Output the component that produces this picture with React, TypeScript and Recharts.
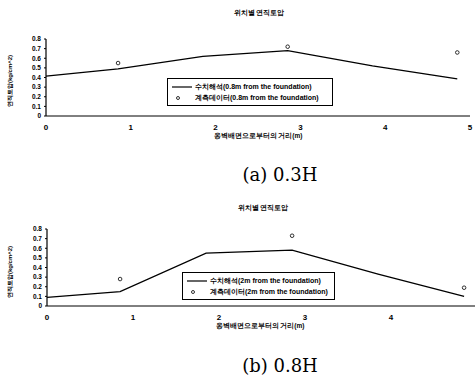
import { ComposedChart, Line, Scatter, XAxis, YAxis, Legend } from 'recharts';

// distance from wall (m)
const X_TICKS_A = [0, 1, 2, 3, 4, 5];
const X_TICKS_B = [0, 1, 2, 3, 4];
const Y_TICKS = [0, 0.1, 0.2, 0.3, 0.4, 0.5, 0.6, 0.7, 0.8];
const LINE_X = [0, 0.85, 1.85, 2.85, 3.85, 4.85];
const MEASURED_X = [0.85, 2.85, 4.85];

// (a) 0.3H
const A_NUMERIC = [0.415, 0.49, 0.62, 0.68, 0.52, 0.385];
const A_MEASURED = [0.55, 0.72, 0.66];
// (b) 0.8H
const B_NUMERIC = [0.09, 0.15, 0.55, 0.58, 0.33, 0.1];
const B_MEASURED = [0.28, 0.73, 0.19];

const TITLE = '위치별 연직토압';
const X_LABEL = '옹벽배면으로부터의 거리(m)';
const Y_LABEL = '연직토압(kg/cm^2)';

const FONT = '"Liberation Sans", Arial, sans-serif';

const Dot = (props: any) => (
  <circle cx={props.cx} cy={props.cy} r={1.8} fill="#fff" stroke="#000" strokeWidth={0.8} />
);

interface PanelProps {
  numeric: number[];
  measured: number[];
  xTicks: number[];
  depth: string;
  width: number;
  marginLeft: number;
  marginRight: number;
  legendLeft: number;
  legendTop: number;
  legendWidth: number;
  titleX: number;
  titleY: number;
  xLabelX: number;
  yLabelY: number;
}

function Panel(p: PanelProps) {
  const lineData = LINE_X.map((x, i) => ({ x, y: p.numeric[i] }));
  const pointData = MEASURED_X.map((x, i) => ({ x, y: p.measured[i] }));

  const legendContent = () => (
    <div style={{
      border: '1.5px solid #000',
      background: '#fff',
      padding: '2px 4px',
      fontFamily: FONT,
      fontSize: 7,
      fontWeight: 700,
      lineHeight: '11px',
      color: '#000',
      whiteSpace: 'nowrap',
    }}>
      <div style={{ display: 'flex', alignItems: 'center' }}>
        <svg width={20} height={8}><line x1={0} y1={4} x2={20} y2={4} stroke="#000" strokeWidth={1.2} /></svg>
        <span style={{ marginLeft: 3 }}>수치해석({p.depth} from the foundation)</span>
      </div>
      <div style={{ display: 'flex', alignItems: 'center' }}>
        <svg width={20} height={8}><circle cx={6} cy={4} r={1.5} fill="#fff" stroke="#000" strokeWidth={0.8} /></svg>
        <span style={{ marginLeft: 3 }}>계측데이터({p.depth} from the foundation)</span>
      </div>
    </div>
  );

  return (
    <div style={{ position: 'relative', width: 475, height: 190, overflow: 'hidden' }}>
      <ComposedChart
        width={p.width}
        height={190}
        margin={{ top: 39, right: p.marginRight, bottom: 60, left: p.marginLeft }}
      >
        <XAxis
          type="number"
          dataKey="x"
          domain={[0, 5]}
          ticks={p.xTicks}
          interval={0}
          allowDataOverflow
          height={14}
          tickSize={0}
          tickMargin={8}
          axisLine={{ stroke: '#000', strokeWidth: 1 }}
          tick={{ fontSize: 8, fontWeight: 700, fill: '#000', fontFamily: FONT }}
        />
        <YAxis
          type="number"
          dataKey="y"
          domain={[0, 0.8]}
          ticks={Y_TICKS}
          interval={0}
          width={30}
          tickSize={2}
          tickMargin={3}
          axisLine={{ stroke: '#000', strokeWidth: 1.2 }}
          tickLine={{ stroke: '#000' }}
          tickFormatter={(v: number) => (v === 0 ? '0' : v.toFixed(1))}
          tick={{ fontSize: 6.5, fontWeight: 700, fill: '#000', fontFamily: FONT }}
        />
        <Legend
          verticalAlign="middle"
          align="center"
          layout="horizontal"
          content={legendContent}
          wrapperStyle={{ left: p.legendLeft, top: p.legendTop, width: p.legendWidth }}
        />
        <Line
          data={lineData}
          dataKey="y"
          type="linear"
          stroke="#000"
          strokeWidth={1.3}
          dot={false}
          isAnimationActive={false}
        />
        <Scatter
          data={pointData}
          dataKey="y"
          shape={Dot}
          isAnimationActive={false}
        />
      </ComposedChart>
      <div style={{
        position: 'absolute', left: p.titleX - 40, top: p.titleY - 5, width: 80,
        textAlign: 'center', fontFamily: FONT, fontSize: 6.5, fontWeight: 700,
      }}>{TITLE}</div>
      <div style={{
        position: 'absolute', left: p.xLabelX - 60, top: 132, width: 120,
        textAlign: 'center', fontFamily: FONT, fontSize: 6.5, fontWeight: 700,
      }}>{X_LABEL}</div>
      <div style={{
        position: 'absolute', left: 10 - 40, top: p.yLabelY - 5, width: 80, height: 10,
        textAlign: 'center', fontFamily: FONT, fontSize: 6, fontWeight: 700,
        transform: 'rotate(-90deg)', lineHeight: '10px',
      }}>{Y_LABEL}</div>
    </div>
  );
}

const captionStyle: React.CSSProperties = {
  position: 'absolute',
  left: 200,
  width: 160,
  textAlign: 'center',
  fontFamily: '"DejaVu Serif", serif',
  fontSize: 18,
};

export default function App() {
  return (
    <div style={{ position: 'absolute', left: 0, top: 0, width: 475, height: 379, background: '#fff', overflow: 'hidden' }}>
      <div style={{ position: 'absolute', left: 0, top: 0 }}>
        <Panel
          numeric={A_NUMERIC}
          measured={A_MEASURED}
          xTicks={X_TICKS_A}
          depth="0.8m"
          width={475}
          marginLeft={16}
          marginRight={5}
          legendLeft={167}
          legendTop={78}
          legendWidth={166}
          titleX={259}
          titleY={14}
          xLabelX={258}
          yLabelY={81}
        />
      </div>
      <div style={{ position: 'absolute', left: 0, top: 190 }}>
        <Panel
          numeric={B_NUMERIC}
          measured={B_MEASURED}
          xTicks={X_TICKS_B}
          depth="2m"
          width={480}
          marginLeft={17}
          marginRight={3}
          legendLeft={182}
          legendTop={82}
          legendWidth={153}
          titleX={263}
          titleY={19}
          xLabelX={260}
          yLabelY={82}
        />
      </div>
      <div style={{ ...captionStyle, top: 164 }}>(a) 0.3H</div>
      <div style={{ ...captionStyle, top: 355 }}>(b) 0.8H</div>
    </div>
  );
}
